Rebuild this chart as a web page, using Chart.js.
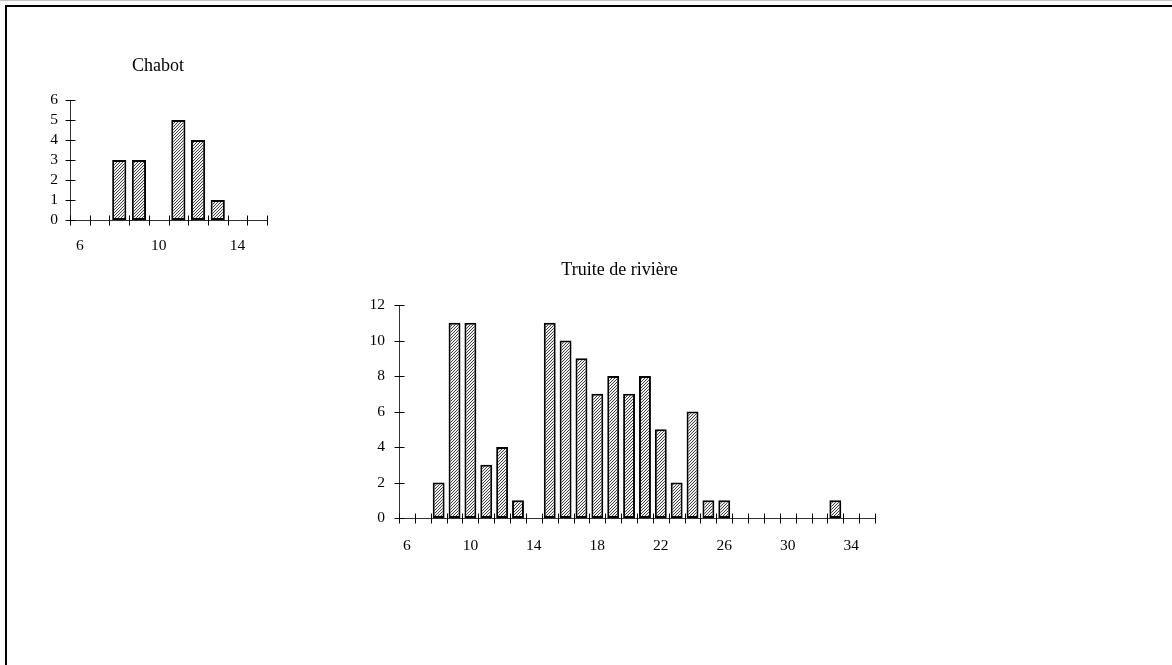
<!DOCTYPE html>
<html>
<head>
<meta charset="utf-8">
<script src="https://cdn.jsdelivr.net/npm/chart.js@4.4.1/dist/chart.umd.min.js"></script>
<style>
  html, body { margin: 0; padding: 0; background: #fff; }
  body { width: 1172px; height: 665px; position: relative; overflow: hidden; }
  #topline { position: absolute; left: 0; top: 0; width: 1172px; height: 0; border-top: 1px solid #c4c4c4; }
  #frame { position: absolute; left: 5px; top: 5px; width: 1200px; height: 700px; border-top: 2px solid #000; border-left: 2px solid #000; }
  canvas { position: absolute; }
  #c1 { left: 0px; top: 0px; }
  #c2 { left: 340px; top: 230px; }
</style>
</head>
<body>
<div id="topline"></div>
<div id="frame"></div>
<canvas id="c1" width="300" height="260" style="width:300px;height:260px"></canvas>
<canvas id="c2" width="580" height="340" style="width:580px;height:340px"></canvas>
<script>
// ---- Data ----
const chabotTitle = "Chabot";
const chabotLengths = ["6","7","8","9","10","11","12","13","14","15"];
const chabotCounts  = [0, 0, 3, 3, 0, 5, 4, 1, 0, 0];
const chabotTickEvery = 4;
const chabotYMax = 6;
const chabotYStep = 1;

const truiteTitle = "Truite de rivière";
const truiteLengths = ["6","7","8","9","10","11","12","13","14","15","16","17","18","19","20",
                       "21","22","23","24","25","26","27","28","29","30","31","32","33","34","35"];
const truiteCounts  = [0, 0, 2, 11, 11, 3, 4, 1, 0, 11, 10, 9, 7, 8, 7,
                       8, 5, 2, 6, 1, 1, 0, 0, 0, 0, 0, 0, 1, 0, 0];
const truiteTickEvery = 4;
const truiteYMax = 12;
const truiteYStep = 2;

// ---- Hatch pattern ----
function makeHatch() {
  const c = document.createElement('canvas');
  const N = 3;
  c.width = N; c.height = N;
  const g = c.getContext('2d');
  const img = g.createImageData(N, N);
  for (let y = 0; y < N; y++) {
    for (let x = 0; x < N; x++) {
      const dark = ((x + y) % N) === N - 1;
      const v = dark ? 70 : 238;
      const k = (y * N + x) * 4;
      img.data[k] = v; img.data[k + 1] = v; img.data[k + 2] = v; img.data[k + 3] = 255;
    }
  }
  g.putImageData(img, 0, 0);
  return g.createPattern(c, 'repeat');
}
const hatch = makeHatch();

// ---- Crossing tick marks plugin ----
const crossTicks = {
  id: 'crossTicks',
  afterDraw(chart) {
    const ctx = chart.ctx;
    const xs = chart.scales.x, ys = chart.scales.y;
    const L = 5;
    ctx.save();
    ctx.strokeStyle = '#000';
    ctx.lineWidth = 1;
    ctx.beginPath();
    const n = xs.getLabels().length;
    const step = (xs.right - xs.left) / n;
    const yb = Math.round(ys.bottom) + 0.5;
    for (let i = 0; i <= n; i++) {
      const x = Math.round(xs.left + i * step) + 0.5;
      ctx.moveTo(x, yb - L); ctx.lineTo(x, yb + L);
    }
    const xl = Math.round(xs.left) + 0.5;
    ys.ticks.forEach(t => {
      const y = Math.round(ys.getPixelForValue(t.value)) + 0.5;
      ctx.moveTo(xl - L, y); ctx.lineTo(xl + L, y);
    });
    ctx.stroke();
    ctx.restore();
  }
};

const FONT = "'Liberation Serif', 'Times New Roman', serif";

function makeChart(id, title, labels, counts, tickEvery, yMax, yStep, lay) {
  return new Chart(document.getElementById(id), {
    type: 'bar',
    data: {
      labels: labels,
      datasets: [{
        data: counts,
        backgroundColor: hatch,
        borderColor: '#000',
        borderWidth: 2,
        borderSkipped: false,
        barPercentage: lay.bar,
        categoryPercentage: 1.0
      }]
    },
    options: {
      responsive: false,
      animation: false,
      events: [],
      layout: { padding: { left: lay.padL, right: lay.padR, top: 0, bottom: 0 } },
      plugins: {
        legend: { display: false },
        tooltip: { enabled: false },
        title: {
          display: true,
          text: title,
          color: '#000',
          font: { family: FONT, size: 18, weight: 'normal', lineHeight: 1.2 },
          padding: { top: lay.tTop, bottom: lay.tBot }
        }
      },
      scales: {
        x: {
          type: 'category',
          offset: true,
          grid: { display: false, drawTicks: false },
          border: { display: true, color: '#333', width: 1 },
          ticks: {
            autoSkip: false, maxRotation: 0, minRotation: 0,
            color: '#000',
            padding: lay.xPad,
            font: { family: FONT, size: 15.5 },
            callback: function(v, i) { return (i % tickEvery === 0) ? this.getLabelForValue(v) : ''; }
          },
          afterFit: s => { s.height = lay.xH; }
        },
        y: {
          min: 0, max: yMax,
          grid: { display: false, drawTicks: false },
          border: { display: true, color: '#333', width: 1 },
          ticks: {
            autoSkip: false,
            stepSize: yStep,
            color: '#000',
            padding: lay.yPad,
            font: { family: FONT, size: 15.5, lineHeight: 1.0 }
          },
          afterFit: s => { s.width = lay.yW; }
        }
      }
    },
    plugins: [crossTicks]
  });
}

makeChart('c1', chabotTitle, chabotLengths, chabotCounts, chabotTickEvery, chabotYMax, chabotYStep,
  { padL: 49, padR: 33, yW: 21, xH: 40, tTop: 55.7, tBot: 22.7, xPad: 17, yPad: 12, bar: 0.72 });
makeChart('c2', truiteTitle, truiteLengths, truiteCounts, truiteTickEvery, truiteYMax, truiteYStep,
  { padL: 24, padR: 45, yW: 35, xH: 52, tTop: 29.2, tBot: 24.2, xPad: 19, yPad: 14, bar: 0.75 });
</script>
</body>
</html>
